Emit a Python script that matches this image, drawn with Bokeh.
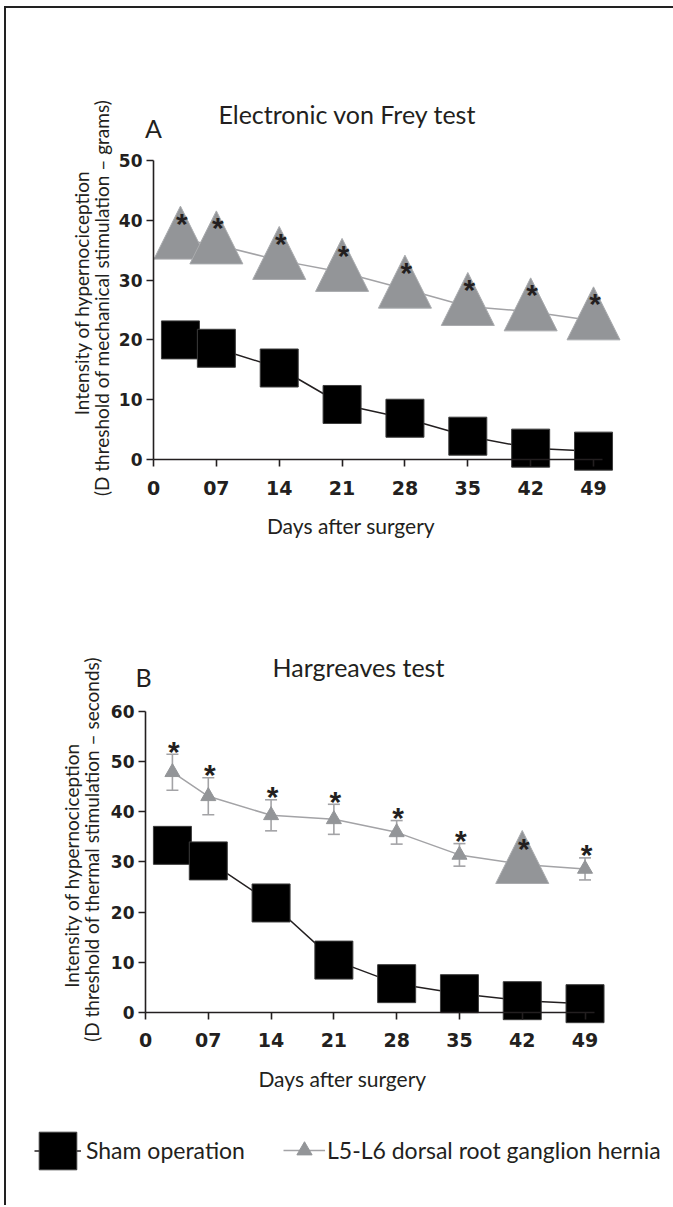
import math
from bokeh.plotting import figure
from bokeh.models import (ColumnDataSource, Range1d, FixedTicker, Label, Whisker,
                          TeeHead, Legend, LegendItem)
from bokeh.layouts import column
from bokeh.embed import file_html
from bokeh.resources import INLINE
from bokeh.core.properties import value

# ---------------- data ----------------
days = [3, 7, 14, 21, 28, 35, 42, 49]
tick_days = [0, 7, 14, 21, 28, 35, 42, 49]
tick_labels = ["0", "07", "14", "21", "28", "35", "42", "49"]
vf_ticks = [0, 10, 20, 30, 40, 50]
hg_ticks = [0, 10, 20, 30, 40, 50, 60]

# A: Electronic von Frey test (grams)
vf_sham = [20.0, 18.6, 15.3, 9.2, 6.9, 3.9, 1.9, 1.4]
vf_hernia = [36.7, 35.9, 33.3, 31.3, 28.5, 25.6, 24.7, 23.2]
vf_sig = ["*", "*", "*", "*", "*", "*", "*", "*"]

# B: Hargreaves test (seconds)
hg_sham = [33.3, 30.2, 21.8, 10.4, 5.7, 3.7, 2.3, 1.7]
hg_hernia = [47.9, 43.1, 39.3, 38.5, 35.9, 31.4, 29.5, 28.6]
hg_hernia_err = [3.6, 3.7, 3.1, 3.0, 2.35, 2.25, 2.6, 2.2]
hg_sig = ["*", "*", "*", "*", "*", "*", "*", "*"]

series_names = ["Sham operation", "L5-L6 dorsal root ganglion hernia"]

# ---------------- style ----------------
INK = "#231f20"
GREY_FILL = "#939598"
GREY_LINE = "#a3a3a6"
BIG_TRI_W, BIG_TRI_H = 53, 53
SQ = 38
SMALL_TRI = 15
B_BIG_INDEX = 6          # the one enlarged marker in panel B

ORIGIN_X, ORIGIN_Y = 6, 8    # page position of the layout content
FIG_W = 667


def tri_patches(xs, ys, cfg, w, h):
    px_x = []
    px_y = []
    dx = (w / 2) / cfg["ppx"]
    up = 0.64 * h / cfg["ppy"]
    dn = 0.36 * h / cfg["ppy"]
    for x, y in zip(xs, ys):
        px_x.append([x - dx, x + dx, x])
        px_y.append([y - dn, y - dn, y + up])
    return px_x, px_y


def make_fig(cfg):
    x_start = (ORIGIN_X - cfg["x0"]) / cfg["ppx"]
    x_end = x_start + FIG_W / cfg["ppx"]
    y_end = (cfg["y0"] - cfg["fig_top"]) / cfg["ppy"]
    y_start = y_end - cfg["H"] / cfg["ppy"]
    p = figure(frame_width=FIG_W, frame_height=cfg["H"],
               x_range=Range1d(x_start, x_end), y_range=Range1d(y_start, y_end),
               min_border=0, output_backend="svg", toolbar_location=None, title=None)
    p.background_fill_color = "white"
    p.border_fill_color = "white"
    p.outline_line_color = None
    p.grid.visible = False

    xa = p.xaxis[0]
    xa.fixed_location = 0
    xa.bounds = (0, 50)
    xa.ticker = FixedTicker(ticks=tick_days)
    xa.major_label_overrides = {d: l for d, l in zip(tick_days, tick_labels)}
    ya = p.yaxis[0]
    ya.fixed_location = 0
    ya.bounds = (0, cfg["ticks"][-1])
    ya.ticker = FixedTicker(ticks=cfg["ticks"])
    for ax in (xa, ya):
        ax.axis_line_color = INK
        ax.axis_line_width = 1.6
        ax.major_tick_line_color = INK
        ax.major_tick_line_width = 1.6
        ax.major_tick_out = 7
        ax.major_tick_in = 0
        ax.minor_tick_line_color = None
        ax.major_label_text_font = "DejaVu Sans"
        ax.major_label_text_font_style = "bold"
        ax.major_label_text_color = INK
    xa.major_label_text_font_size = "19px"
    xa.major_label_standoff = 14
    ya.major_label_text_font_size = "17px"
    ya.major_label_standoff = 4
    return p


def add_text(p, cfg, px, py, text, size, angle=0.0, baseline="alphabetic"):
    x = (px - cfg["x0"]) / cfg["ppx"]
    y = (cfg["y0"] - py) / cfg["ppy"]
    p.add_layout(Label(x=x, y=y, text=text, angle=angle, text_align="center",
                       text_baseline=baseline, text_font="Lato",
                       text_font_size=f"{size}px", text_color=INK))


def add_sig(p, xs, ys, marks, yoff):
    src = ColumnDataSource(dict(x=xs, y=ys, t=marks))
    p.text(x="x", y="y", text="t", source=src, text_font=value("Liberation Sans"),
           text_font_style="bold", text_font_size="30px", text_align="center",
           text_baseline="alphabetic", text_color=INK, x_offset=1.5, y_offset=yoff)


# ---------------- panel A ----------------
cfgA = dict(fig_top=ORIGIN_Y, H=552, x0=153, y0=459, ppx=8.98, ppy=5.98, ticks=vf_ticks)
pA = make_fig(cfgA)

pA.line(days, vf_sham, line_color=INK, line_width=1.5)
pA.rect(x=days, y=vf_sham, width=SQ, height=SQ, width_units="screen",
        height_units="screen", fill_color="black", line_color="#3c3c3c", line_width=1)
pA.line(days, vf_hernia, line_color=GREY_LINE, line_width=1.5)
txs, tys = tri_patches(days, vf_hernia, cfgA, BIG_TRI_W, BIG_TRI_H)
pA.patches(txs, tys, fill_color=GREY_FILL, line_color="#a9abae", line_width=1)
add_sig(pA, days, vf_hernia, vf_sig, -17)

add_text(pA, cfgA, 153, 127, "A", 25)
add_text(pA, cfgA, 347, 113, "Electronic von Frey test", 25)
add_text(pA, cfgA, 350.5, 525, "Days after surgery", 21)
add_text(pA, cfgA, 81, 292.5, "Intensity of hypernociception", 19,
         angle=math.pi / 2, baseline="middle")
add_text(pA, cfgA, 101, 297.5, "(D threshold of mechanical stimulation \u2013 grams)", 19,
         angle=math.pi / 2, baseline="middle")

# ---------------- panel B ----------------
B_TOP = ORIGIN_Y + 552
B_H = 645
cfgB = dict(fig_top=B_TOP, H=B_H, x0=145, y0=1011.7, ppx=8.97, ppy=5.01, ticks=hg_ticks)
pB = make_fig(cfgB)

upper = [v + e for v, e in zip(hg_hernia, hg_hernia_err)]
lower = [v - e for v, e in zip(hg_hernia, hg_hernia_err)]
err_src = ColumnDataSource(dict(x=days, upper=upper, lower=lower))
pB.add_layout(Whisker(base="x", upper="upper", lower="lower", source=err_src,
                      line_color=GREY_LINE, line_width=1.6,
                      upper_head=TeeHead(size=12, line_color=GREY_LINE, line_width=1.6),
                      lower_head=TeeHead(size=12, line_color=GREY_LINE, line_width=1.6)))

sham_line = pB.line(days, hg_sham, line_color=INK, line_width=1.5)
sham_rect = pB.rect(x=days, y=hg_sham, width=SQ, height=SQ, width_units="screen",
                    height_units="screen", fill_color="black", line_color="#3c3c3c",
                    line_width=1)
hern_line = pB.line(days, hg_hernia, line_color=GREY_LINE, line_width=1.5)
hern_pts = pB.scatter(days, hg_hernia, marker="triangle", size=SMALL_TRI,
                      fill_color=GREY_FILL, line_color=GREY_FILL)
bxs, bys = tri_patches([days[B_BIG_INDEX]], [hg_hernia[B_BIG_INDEX]], cfgB, BIG_TRI_W, BIG_TRI_H)
pB.patches(bxs, bys, fill_color=GREY_FILL, line_color="#a9abae", line_width=1)
add_sig(pB, days, upper, hg_sig, -3)

add_text(pB, cfgB, 143, 676, "B", 25)
add_text(pB, cfgB, 358, 666, "Hargreaves test", 25)
add_text(pB, cfgB, 342, 1078, "Days after surgery", 21)
add_text(pB, cfgB, 71, 865, "Intensity of hypernociception", 19,
         angle=math.pi / 2, baseline="middle")
add_text(pB, cfgB, 91, 849, "(D threshold of thermal stimulation \u2013 seconds)", 19,
         angle=math.pi / 2, baseline="middle")

B_BOTTOM = B_TOP + B_H
common = dict(orientation="horizontal", padding=0, margin=0, spacing=0,
              border_line_alpha=0, background_fill_alpha=0, label_text_font="Lato",
              label_text_font_size="23px", label_text_color=INK)
leg1 = Legend(items=[LegendItem(label=series_names[0], renderers=[sham_line, sham_rect])],
              location=(34 - ORIGIN_X, B_BOTTOM - (1150 + 23.5)),
              glyph_width=47, glyph_height=47, label_standoff=5, **common)
leg2 = Legend(items=[LegendItem(label=series_names[1], renderers=[hern_line, hern_pts])],
              location=(283 - ORIGIN_X, B_BOTTOM - (1150 + 19)),
              glyph_width=42, glyph_height=38, label_standoff=2, **common)
pB.add_layout(leg1)
pB.add_layout(leg2)

layout = column(pA, pB, styles={"margin-left": "4px", "margin-top": "6px",
                                "border-top": "2px solid #222",
                                "border-left": "2px solid #222"})
open("out.html", "w").write(file_html(layout, INLINE))
